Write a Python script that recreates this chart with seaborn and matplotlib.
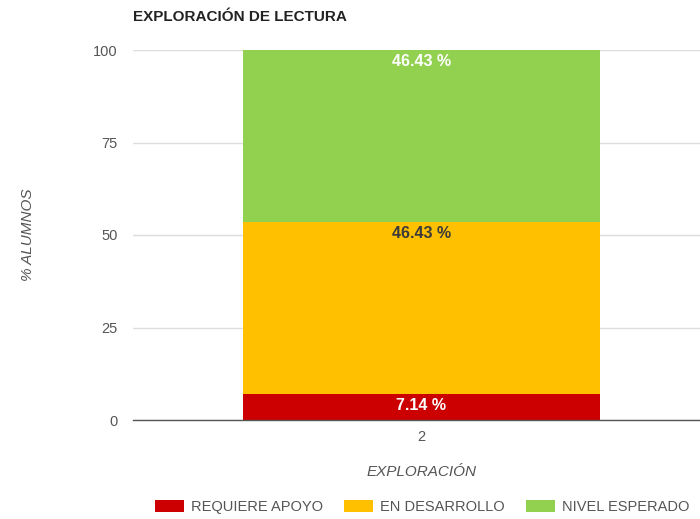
import numpy as np
import pandas as pd
import matplotlib
matplotlib.use("Agg")
import matplotlib.pyplot as plt
from matplotlib.patches import Patch
import seaborn as sns

# Data
categories = ["2"]
levels = ["REQUIERE APOYO", "EN DESARROLLO", "NIVEL ESPERADO"]
values = [7.14, 46.43, 46.43]
colors = ["#CC0000", "#FFC000", "#92D050"]
label_colors = ["white", "#3a3a3a", "white"]
y_ticks = [0, 25, 50, 75, 100]

sns.set_theme(style="white")
plt.rcParams["font.family"] = ["Liberation Sans", "DejaVu Sans"]

fig = plt.figure(figsize=(7.0, 5.19), dpi=100)
ax = fig.add_axes([133 / 700, 99 / 519, 577 / 700, 370 / 519])

tops = np.cumsum(values)

# Stacked bar: draw cumulative totals from the top down so each segment shows
for i in reversed(range(len(levels))):
    df = pd.DataFrame({"cat": categories, "total": [tops[i]]})
    sns.barplot(data=df, x="cat", y="total", color=colors[i], saturation=1,
                width=0.8, ax=ax, edgecolor="none", linewidth=0)

# Segment value labels just inside each segment's top
for i in range(len(levels)):
    ax.annotate(f"{values[i]:.2f} %", xy=(0, tops[i]), xytext=(0, -8.5),
                textcoords="offset points", ha="center", va="center",
                fontsize=11.5, fontweight="bold", color=label_colors[i])

ax.set_xlim(-0.6466, 0.6466)
ax.set_ylim(0, 100)
ax.set_yticks(y_ticks)
ax.set_yticklabels([str(t) for t in y_ticks])
ax.yaxis.grid(True, color="#dddddd", linewidth=1)
ax.set_axisbelow(True)
for s in ["top", "right", "left"]:
    ax.spines[s].set_visible(False)
ax.spines["bottom"].set_color("#555555")
ax.spines["bottom"].set_linewidth(1)
ax.tick_params(axis="both", length=0, labelsize=10.5, labelcolor="#555555")
ax.tick_params(axis="y", pad=11)
ax.tick_params(axis="x", pad=7)

ax.set_xlabel("EXPLORACIÓN", fontsize=11, style="italic", color="#555555", labelpad=15)
ax.set_ylabel("% ALUMNOS", fontsize=11, style="italic", color="#555555", labelpad=42)

fig.text(133 / 700, 1 - 17 / 519, "EXPLORACIÓN DE LECTURA", fontsize=11,
         fontweight="bold", color="#222222", ha="left", va="center")

handles = [Patch(facecolor=c, edgecolor="none") for c in colors]
fig.legend(handles, levels, loc="center", bbox_to_anchor=(422 / 700, 1 - 507 / 519),
           ncol=3, frameon=False, fontsize=10.5, labelcolor="#555555",
           handlelength=2.0, handleheight=0.9, handletextpad=0.48, columnspacing=1.45)

fig.savefig("out.png", dpi=100)
